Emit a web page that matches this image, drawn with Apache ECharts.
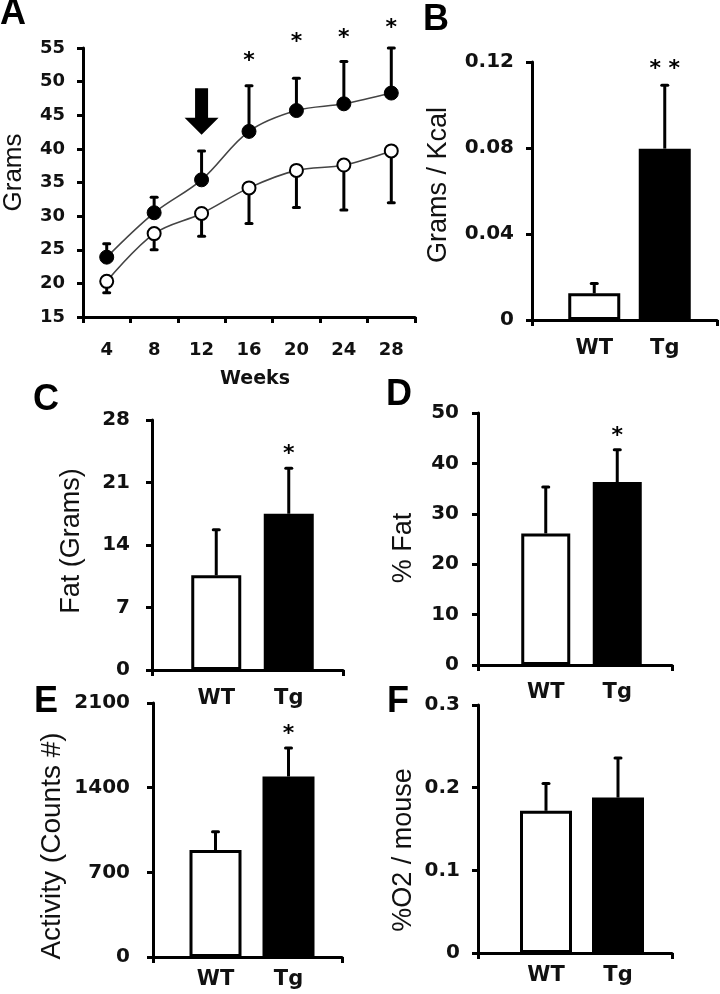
<!DOCTYPE html>
<html><head><meta charset="utf-8">
<script src="https://cdn.jsdelivr.net/npm/echarts@6/dist/echarts.min.js"></script>
<style>html,body{margin:0;padding:0;background:#fff}#c{width:720px;height:994px}</style>
</head><body><div id="c"></div>
<script>
// ---- Panel A: body weight over time ----
const weeks = ['4', '8', '12', '16', '20', '24', '28'];
const tgWeight = [23.9, 30.5, 35.4, 42.6, 45.7, 46.7, 48.3];
const tgWeightErr = [2.0, 2.3, 4.3, 6.8, 4.8, 6.3, 6.7];
const wtWeight = [20.3, 27.4, 30.4, 34.2, 36.8, 37.6, 39.7];
const wtWeightErr = [1.7, 2.4, 3.4, 5.3, 5.5, 6.7, 7.7];
const weightSig = ['', '', '', '*', '*', '*', '*'];
const gramTicks = { min: 15, max: 55, interval: 5 };

// ---- Panels B-F: WT vs Tg ----
const groups = ['WT', 'Tg'];
const gramsPerKcal = [0.0124, 0.0797];
const gramsPerKcalErr = [0.0046, 0.0295];
const gramsPerKcalSig = ['', '* *'];
const fatGrams = [10.6, 17.5];
const fatGramsErr = [5.1, 5.1];
const fatGramsSig = ['', '*'];
const fatPct = [26.1, 36.3];
const fatPctErr = [9.2, 6.4];
const fatPctSig = ['', '*'];
const activity = [884, 1492];
const activityErr = [152, 235];
const activitySig = ['', '*'];
const o2 = [0.172, 0.188];
const o2Err = [0.033, 0.048];
const o2Sig = ['', ''];

const TICK_FONT = 'DejaVu Sans';
const NAME_FONT = 'Liberation Sans';

function errItem(params, api) {
  const i = api.value(0), v = api.value(1), t = api.value(2);
  const a = api.coord([i, v]), b = api.coord([i, t]);
  return { type: 'group', children: [
    { type: 'line', shape: { x1: a[0], y1: a[1], x2: b[0], y2: b[1] }, style: { stroke: '#000', lineWidth: 3 } },
    { type: 'line', shape: { x1: b[0] - 3, y1: b[1], x2: b[0] + 3, y2: b[1] }, style: { stroke: '#000', lineWidth: 3, lineCap: 'round' } }
  ]};
}
const starTexts = {};
function starItem(lifts) {
  return function (params, api) {
    const i = api.value(0), t = api.value(1);
    const p = api.coord([i, t]);
    const txt = starTexts[params.seriesId][params.dataIndex];
    return { type: 'text', x: p[0], y: p[1] - lifts[params.dataIndex], style: {
      text: txt, font: 'bold 22px ' + TICK_FONT, fill: '#000', align: 'center', verticalAlign: 'middle' } };
  };
}

const grids = [], xAxes = [], yAxes = [], series = [];
const axisLine = { show: true, lineStyle: { color: '#000', width: 3 } };
const axisTick = { show: true, inside: false, length: 6, lineStyle: { color: '#000', width: 3 } };
const plain = (v) => String(+v.toFixed(4));

// Panel A
grids.push({ left: 82, top: 48, width: 333, height: 269 });
xAxes.push({ type: 'category', gridIndex: 0, data: weeks, boundaryGap: true,
  axisLine, axisTick, axisLabel: { margin: 24, fontFamily: TICK_FONT, fontWeight: 'bold', fontSize: 18, color: '#111' },
  name: 'Weeks', nameLocation: 'middle', nameGap: 53,
  nameTextStyle: { fontFamily: TICK_FONT, fontWeight: 'bold', fontSize: 19, color: '#111', padding: [0, 0, 0, 12] } });
yAxes.push({ type: 'value', gridIndex: 0, min: gramTicks.min, max: gramTicks.max, interval: gramTicks.interval,
  axisLine, axisTick, splitLine: { show: false },
  axisLabel: { margin: 18, fontFamily: TICK_FONT, fontWeight: 'bold', fontSize: 18, color: '#111', formatter: plain },
  name: 'Grams', nameLocation: 'middle', nameGap: 56,
  nameTextStyle: { fontFamily: NAME_FONT, fontSize: 26, color: '#111', padding: [0, 0, 0, 20] } });

series.push({ type: 'custom', xAxisIndex: 0, yAxisIndex: 0, z: 1, clip: false, renderItem: errItem,
  data: tgWeight.map((v, i) => [i, v, v + tgWeightErr[i]]) });
series.push({ type: 'custom', xAxisIndex: 0, yAxisIndex: 0, z: 1, clip: false, renderItem: errItem,
  data: wtWeight.map((v, i) => [i, v, v - wtWeightErr[i]]) });
series.push({ type: 'line', name: 'Tg', xAxisIndex: 0, yAxisIndex: 0, z: 3, data: tgWeight, smooth: 0.35,
  symbol: 'circle', symbolSize: 14, lineStyle: { color: '#444', width: 1.6 },
  itemStyle: { color: '#000', borderColor: '#000', borderWidth: 1 } });
series.push({ type: 'line', name: 'WT', xAxisIndex: 0, yAxisIndex: 0, z: 3, data: wtWeight, smooth: 0.35,
  symbol: 'circle', symbolSize: 13, lineStyle: { color: '#444', width: 1.6 },
  itemStyle: { color: '#fff', borderColor: '#000', borderWidth: 2 } });
starTexts['starsA'] = [];
const starDataA = [];
tgWeight.forEach((v, i) => { if (weightSig[i]) { starDataA.push([i, v + tgWeightErr[i]]); starTexts['starsA'].push(weightSig[i]); } });
series.push({ type: 'custom', id: 'starsA', xAxisIndex: 0, yAxisIndex: 0, clip: false, z: 4,
  renderItem: starItem([24, 36, 23, 20]), data: starDataA });
// arrow marking week 12
series.push({ type: 'custom', xAxisIndex: 0, yAxisIndex: 0, clip: false, z: 4,
  renderItem: function (params, api) {
    const top = api.coord([api.value(0), api.value(1)]);
    const tip = api.coord([api.value(0), api.value(2)]);
    const x = tip[0], hw = 17, sw = 6.5, hl = 17;
    return { type: 'polygon', shape: { points: [[x - sw, top[1]], [x + sw, top[1]], [x + sw, tip[1] - hl], [x + hw, tip[1] - hl],
      [x, tip[1]], [x - hw, tip[1] - hl], [x - sw, tip[1] - hl]] }, style: { fill: '#000' } };
  }, data: [[2, 49.0, 42.1]] });

// bar panels
function barPanel(cfg) {
  const gi = grids.length;
  grids.push({ left: cfg.frame[0], top: cfg.frame[1], width: cfg.frame[2] - cfg.frame[0], height: cfg.frame[3] - cfg.frame[1] });
  xAxes.push({ type: 'category', gridIndex: gi, data: [''], boundaryGap: true, axisLine, axisTick, axisLabel: { show: false } });
  yAxes.push({ type: 'value', gridIndex: gi, min: cfg.min, max: cfg.max, interval: cfg.interval,
    axisLine, axisTick, splitLine: { show: false },
    axisLabel: { margin: cfg.labelMargin, fontFamily: TICK_FONT, fontWeight: 'bold', fontSize: 20, color: '#111', formatter: plain },
    name: cfg.name, nameLocation: 'middle', nameGap: cfg.nameGap,
    nameTextStyle: { fontFamily: NAME_FONT, fontSize: cfg.nameSize, color: '#111', padding: cfg.namePad } });
  const bi = gi + 1;
  grids.push({ left: cfg.bars[0], top: cfg.frame[1], width: cfg.bars[1], height: cfg.frame[3] - cfg.frame[1] });
  xAxes.push({ type: 'category', gridIndex: bi, data: groups, boundaryGap: true, axisLine: { show: false }, axisTick: { show: false },
    axisLabel: { margin: cfg.catMargin, fontFamily: TICK_FONT, fontWeight: 'bold', fontSize: 21, color: '#111' } });
  yAxes.push({ type: 'value', gridIndex: bi, min: cfg.min, max: cfg.max, interval: cfg.interval, show: false, splitLine: { show: false } });
  series.push({ type: 'bar', xAxisIndex: bi, yAxisIndex: bi, barWidth: cfg.barWidth, z: 2,
    data: cfg.values.map((v, i) => ({ value: v, itemStyle: { color: i === 0 ? '#fff' : '#000', borderColor: '#000', borderWidth: 3 } })) });
  series.push({ type: 'custom', xAxisIndex: bi, yAxisIndex: bi, z: 1, clip: false, renderItem: errItem,
    data: cfg.values.map((v, i) => [i, v, v + cfg.errs[i]]) });
  const id = 'stars' + gi;
  starTexts[id] = [];
  const sd = [];
  cfg.values.forEach((v, i) => { if (cfg.sig[i]) { sd.push([i, v + cfg.errs[i]]); starTexts[id].push(cfg.sig[i]); } });
  series.push({ type: 'custom', id, xAxisIndex: bi, yAxisIndex: bi, z: 4, clip: false, renderItem: starItem([cfg.lift, cfg.lift]), data: sd });
}

barPanel({ frame: [532, 62, 717, 320], bars: [559, 141], barWidth: 52, min: 0, max: 0.12, interval: 0.04,
  values: gramsPerKcal, errs: gramsPerKcalErr, sig: gramsPerKcalSig, lift: 16,
  name: 'Grams / Kcal', nameSize: 27, nameGap: 80, namePad: [0, 0, 0, 12], labelMargin: 18, catMargin: 18 });
barPanel({ frame: [152, 420, 343, 670], bars: [180, 145], barWidth: 50, min: 0, max: 28, interval: 7,
  values: fatGrams, errs: fatGramsErr, sig: fatGramsSig, lift: 14,
  name: 'Fat (Grams)', nameSize: 27, nameGap: 67, namePad: [0, 0, 0, 8], labelMargin: 22, catMargin: 18 });
barPanel({ frame: [478, 413, 672, 665], bars: [510, 143], barWidth: 49, min: 0, max: 50, interval: 10,
  values: fatPct, errs: fatPctErr, sig: fatPctSig, lift: 14,
  name: '% Fat', nameSize: 27, nameGap: 61, namePad: [0, 18, 0, 0], labelMargin: 19, catMargin: 17 });
barPanel({ frame: [153, 703, 342, 957], bars: [179, 146], barWidth: 52, min: 0, max: 2100, interval: 700,
  values: activity, errs: activityErr, sig: activitySig, lift: 14,
  name: 'Activity (Counts #)', nameSize: 28, nameGap: 87, namePad: [0, 32, 0, 0], labelMargin: 23, catMargin: 12 });
barPanel({ frame: [478, 705, 672, 953], bars: [510, 144], barWidth: 52, min: 0, max: 0.3, interval: 0.1,
  values: o2, errs: o2Err, sig: o2Sig, lift: 14,
  name: '%O2 / mouse', nameSize: 27, nameGap: 61, namePad: [0, 42, 0, 0], labelMargin: 18, catMargin: 12 });

const letterStyle = (t) => ({ text: t, font: 'bold 36px ' + NAME_FONT, fill: '#000' });
const chart = echarts.init(document.getElementById('c'), null, { renderer: 'canvas' });
chart.setOption({
  animation: false,
  backgroundColor: '#fff',
  grid: grids, xAxis: xAxes, yAxis: yAxes, series,
  graphic: [
    { type: 'text', left: 0, top: -4, style: letterStyle('A') },
    { type: 'text', left: 423, top: 2, style: letterStyle('B') },
    { type: 'text', left: 33, top: 382, style: letterStyle('C') },
    { type: 'text', left: 386, top: 377, style: letterStyle('D') },
    { type: 'text', left: 34, top: 684, style: letterStyle('E') },
    { type: 'text', left: 387, top: 684, style: letterStyle('F') }
  ]
});
</script></body></html>
